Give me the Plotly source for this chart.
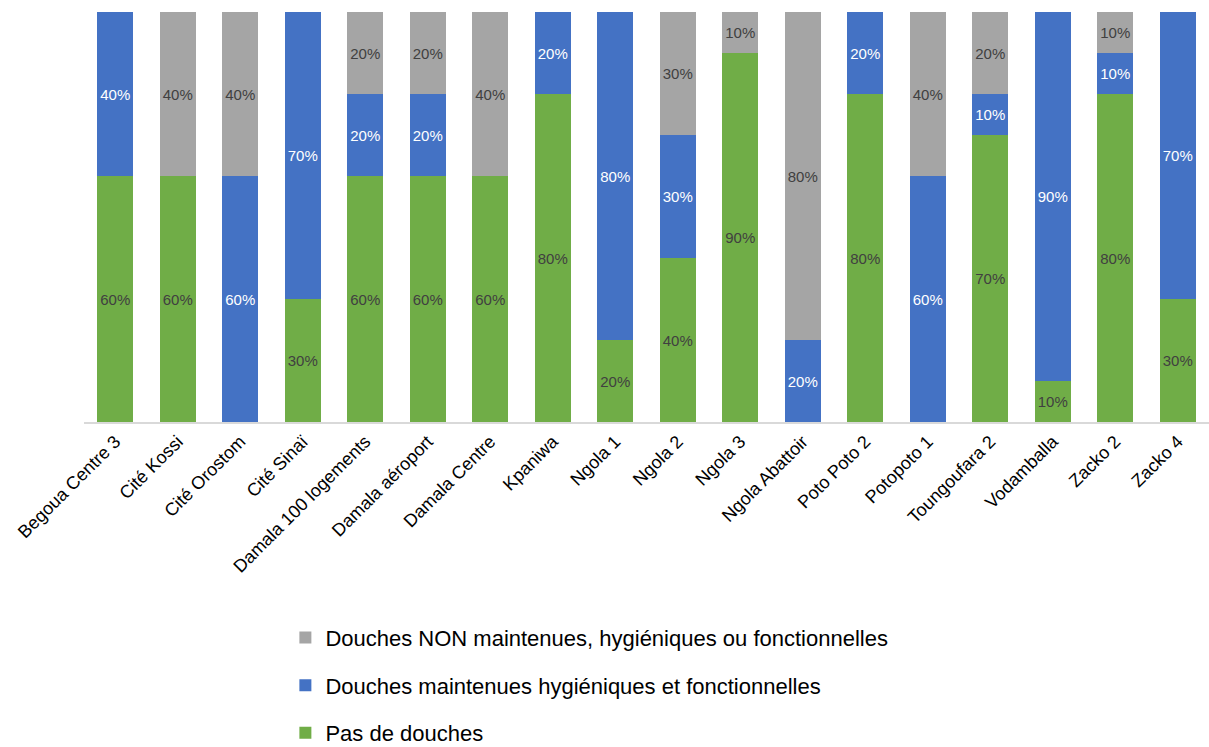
import plotly.graph_objects as go

categories = ["Begoua Centre 3", "Cité Kossi", "Cité Orostom", "Cité Sinaï", "Damala 100 logements",
              "Damala aéroport", "Damala Centre", "Kpaniwa", "Ngola 1", "Ngola 2", "Ngola 3",
              "Ngola Abattoir", "Poto Poto 2", "Potopoto 1", "Toungoufara 2", "Vodamballa",
              "Zacko 2", "Zacko 4"]
pas_de_douches = [60, 60, 0, 30, 60, 60, 60, 80, 20, 40, 90, 0, 80, 0, 70, 10, 80, 30]
maintenues = [40, 0, 60, 70, 20, 20, 0, 20, 80, 30, 0, 20, 20, 60, 10, 90, 10, 70]
non_maintenues = [0, 40, 40, 0, 20, 20, 40, 0, 0, 30, 10, 80, 0, 40, 20, 0, 10, 0]

series = [
    ("Pas de douches", pas_de_douches, "#70AD47", "#404040", 3),
    ("Douches maintenues hygiéniques et fonctionnelles", maintenues, "#4472C4", "#FFFFFF", 2),
    ("Douches NON maintenues, hygiéniques ou fonctionnelles", non_maintenues, "#A5A5A5", "#404040", 1),
]

fig = go.Figure()
for i, (name, vals, color, tcolor, rank) in enumerate(series):
    fig.add_trace(go.Bar(
        x=categories, y=vals, name=name, legendgroup=f"g{i}", legendrank=rank,
        marker=dict(color=color, line=dict(width=0)),
        text=[f"{v}%" if v else "" for v in vals],
        textposition="inside", insidetextanchor="middle", textangle=0,
        textfont=dict(color=tcolor, size=15, family="Liberation Sans, Arial, sans-serif"),
    ))

fig.update_layout(
    barmode="stack", bargap=0.43,
    width=1209, height=747,
    margin=dict(l=84, r=0, t=12, b=325, autoexpand=False),
    plot_bgcolor="white", paper_bgcolor="white",
    font=dict(family="Liberation Sans, Arial, sans-serif", color="#000000"),
    uniformtext=dict(minsize=15, mode="show"),
    showlegend=True,
    legend=dict(orientation="v", traceorder="grouped", tracegroupgap=16,
                x=0.179, xanchor="left", y=-0.475, yanchor="top",
                font=dict(size=22, color="#000000"), itemwidth=30),
    xaxis=dict(tickangle=-45, tickfont=dict(size=18, color="#000000"), automargin=False,
               showline=True, linecolor="#D9D9D9", linewidth=2, ticks="", showgrid=False),
    yaxis=dict(range=[0, 100], visible=False, showgrid=False, automargin=False),
)

fig.write_html("out.html", config={"displayModeBar": False},
               post_script="document.body.style.margin='0';document.body.style.overflow='hidden';")
